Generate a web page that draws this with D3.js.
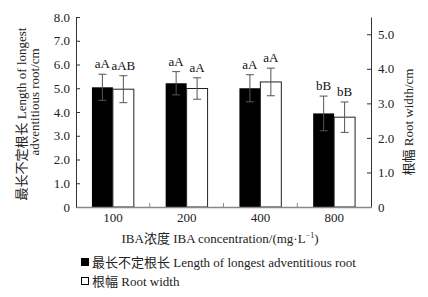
<!DOCTYPE html>
<html>
<head>
<meta charset="utf-8">
<script src="https://cdn.jsdelivr.net/npm/d3@7"></script>
<style>
  body { margin: 0; background: #fff; }
  svg { display: block; }
  svg text { font-family: "Liberation Serif", "Times New Roman", "Noto Sans CJK SC", serif; }
</style>
</head>
<body>
<svg id="chart"></svg>
<script>
const width = 428;
const height = 297;
const margins = { top: 17, right: 57, bottom: 90, left: 76 };
const fontSize = "13px";

// data
const concentrations = ["100", "200", "400", "800"];
const rootLength = [5.04, 5.21, 5.0, 3.94];
const rootLengthErr = [0.55, 0.49, 0.57, 0.73];
const rootWidth = [3.41, 3.43, 3.62, 2.6];
const rootWidthErr = [0.39, 0.31, 0.4, 0.44];
const lengthLetters = ["aA", "aA", "aA", "bB"];
const widthLetters = ["aAB", "aA", "aA", "bB"];
const leftTicks = [0, 1, 2, 3, 4, 5, 6, 7, 8];
const rightTicks = [0, 1, 2, 3, 4, 5];

const svg = d3.select("#chart").attr("width", width).attr("height", height);

const x = d3
  .scaleBand()
  .domain(concentrations)
  .range([margins.left, width - margins.right]);

const xSub = d3
  .scaleBand()
  .domain(["len", "wid"])
  .range([0, x.bandwidth()])
  .paddingOuter(0.76);

const yL = d3
  .scaleLinear()
  .domain([0, 8])
  .range([height - margins.bottom, margins.top]);

const yR = d3
  .scaleLinear()
  .domain([0, 5.5])
  .range([height - margins.bottom, margins.top]);

const rows = concentrations.map((c, i) => ({
  c,
  len: rootLength[i],
  lenErr: rootLengthErr[i],
  wid: rootWidth[i],
  widErr: rootWidthErr[i],
  lenTxt: lengthLetters[i],
  widTxt: widthLetters[i],
}));

// bars
svg
  .append("g")
  .selectAll("rect")
  .data(rows)
  .join("rect")
  .attr("x", (d) => x(d.c) + xSub("len"))
  .attr("y", (d) => yL(d.len))
  .attr("width", xSub.bandwidth())
  .attr("height", (d) => yL(0) - yL(d.len))
  .attr("fill", "#000");

svg
  .append("g")
  .selectAll("rect")
  .data(rows)
  .join("rect")
  .attr("x", (d) => x(d.c) + xSub("wid"))
  .attr("y", (d) => yR(d.wid))
  .attr("width", xSub.bandwidth())
  .attr("height", (d) => yR(0) - yR(d.wid))
  .attr("fill", "#fff")
  .attr("stroke", "#222")
  .attr("stroke-width", 1);

// error bars
const errs = [];
rows.forEach((d) => {
  errs.push({ cx: x(d.c) + xSub("len") + xSub.bandwidth() / 2, hi: yL(d.len + d.lenErr), lo: yL(d.len - d.lenErr), txt: d.lenTxt });
  errs.push({ cx: x(d.c) + xSub("wid") + xSub.bandwidth() / 2, hi: yR(d.wid + d.widErr), lo: yR(d.wid - d.widErr), txt: d.widTxt });
});

const eg = svg.append("g").attr("stroke", "#555").attr("stroke-width", 1);
eg.selectAll(".stem")
  .data(errs)
  .join("line")
  .attr("x1", (d) => d.cx)
  .attr("x2", (d) => d.cx)
  .attr("y1", (d) => d.hi)
  .attr("y2", (d) => d.lo);
eg.selectAll(".capT")
  .data(errs)
  .join("line")
  .attr("x1", (d) => d.cx - 4)
  .attr("x2", (d) => d.cx + 4)
  .attr("y1", (d) => d.hi)
  .attr("y2", (d) => d.hi);
eg.selectAll(".capB")
  .data(errs)
  .join("line")
  .attr("x1", (d) => d.cx - 4)
  .attr("x2", (d) => d.cx + 4)
  .attr("y1", (d) => d.lo)
  .attr("y2", (d) => d.lo);

svg
  .append("g")
  .selectAll("text")
  .data(errs)
  .join("text")
  .attr("x", (d) => d.cx)
  .attr("y", (d) => d.hi - 6)
  .attr("text-anchor", "middle")
  .attr("font-size", fontSize)
  .attr("fill", "#111")
  .text((d) => d.txt);

// axes
const fmt = (d) => (d === 0 ? "0" : d3.format(".1f")(d));

const leftAxis = svg
  .append("g")
  .attr("transform", `translate(${margins.left},0)`)
  .call(d3.axisLeft(yL).tickValues(leftTicks).tickSize(-4).tickSizeOuter(0).tickPadding(6).tickFormat(fmt));
leftAxis.select(".domain").attr("stroke", "#333");
leftAxis.selectAll(".tick line").attr("stroke", "#333");

const rightAxis = svg
  .append("g")
  .attr("transform", `translate(${width - margins.right},0)`)
  .call(d3.axisRight(yR).tickValues(rightTicks).tickSize(-4).tickSizeOuter(0).tickPadding(7).tickFormat(fmt));
rightAxis.select(".domain").attr("stroke", "#333");
rightAxis.selectAll(".tick line").attr("stroke", "#333");

const bottomAxis = svg
  .append("g")
  .attr("transform", `translate(0,${height - margins.bottom})`)
  .call(d3.axisBottom(x).tickSize(0).tickPadding(6));
bottomAxis.select(".domain").attr("stroke", "#888").attr("stroke-width", 1.5);

svg.selectAll(".tick text").attr("font-size", fontSize).attr("fill", "#222");

// tick marks between categories
svg
  .append("g")
  .selectAll("line")
  .data(concentrations.slice(1))
  .join("line")
  .attr("x1", (d) => x(d))
  .attr("x2", (d) => x(d))
  .attr("y1", yL(0))
  .attr("y2", yL(0) - 4)
  .attr("stroke", "#888");

// axis titles
svg
  .append("text")
  .attr("transform", "translate(26,114) rotate(-90)")
  .attr("text-anchor", "middle")
  .attr("font-size", fontSize)
  .attr("fill", "#222")
  .text("最长不定根长 Length of longest");
svg
  .append("text")
  .attr("transform", "translate(39,102) rotate(-90)")
  .attr("text-anchor", "middle")
  .attr("font-size", fontSize)
  .attr("fill", "#222")
  .text("adventitious root/cm");

svg
  .append("text")
  .attr("transform", "translate(413,122) rotate(-90)")
  .attr("text-anchor", "middle")
  .attr("font-size", fontSize)
  .attr("fill", "#222")
  .text("根幅 Root width/cm");

const xt = svg
  .append("text")
  .attr("x", 220)
  .attr("y", 243)
  .attr("text-anchor", "middle")
  .attr("font-size", fontSize)
  .attr("fill", "#222");
xt.append("tspan").text("IBA浓度  IBA concentration/(mg·L");
xt.append("tspan").attr("font-size", "8px").attr("dy", -5).text("−1");
xt.append("tspan").attr("dy", 5).text(")");

// legend
const legendItems = [
  { fill: "#000", label: "最长不定根长 Length of longest adventitious root" },
  { fill: "#fff", label: "根幅  Root width" },
];
const lg = svg
  .append("g")
  .selectAll("g")
  .data(legendItems)
  .join("g")
  .attr("transform", (d, i) => `translate(81,${262 + i * 19})`);
lg.append("rect")
  .attr("x", 0.5)
  .attr("y", -3.5)
  .attr("width", 7)
  .attr("height", 7)
  .attr("fill", (d) => d.fill)
  .attr("stroke", "#000");
lg.append("text")
  .attr("x", 11)
  .attr("y", 4.5)
  .attr("font-size", fontSize)
  .attr("fill", "#222")
  .text((d) => d.label);
</script>
</body>
</html>
